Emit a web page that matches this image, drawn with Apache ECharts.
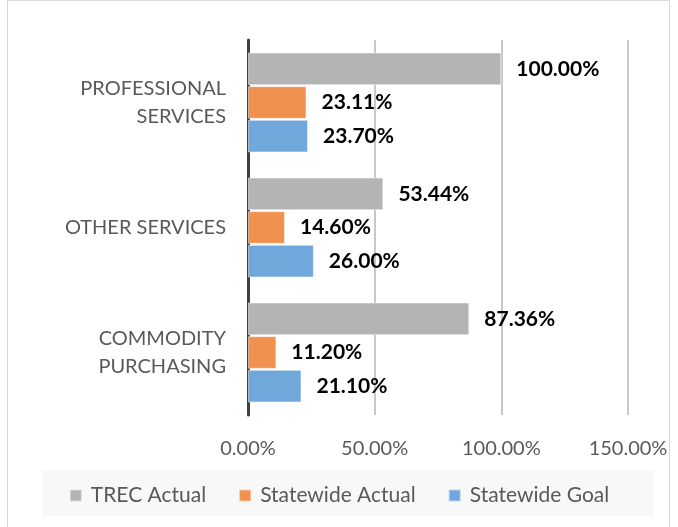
<!DOCTYPE html>
<html><head><meta charset="utf-8">
<script src="https://cdn.jsdelivr.net/npm/echarts@6/dist/echarts.min.js"></script>
<style>html,body{margin:0;padding:0;background:#fff}#c{width:678px;height:527px}</style>
</head><body><div id="c"></div>
<script>
const categories = ['PROFESSIONAL\nSERVICES', 'OTHER SERVICES', 'COMMODITY\nPURCHASING'];
const seriesNames = ['TREC Actual', 'Statewide Actual', 'Statewide Goal'];
const trecActual = [100.00, 53.44, 87.36];
const statewideActual = [23.11, 14.60, 11.20];
const statewideGoal = [23.70, 26.00, 21.10];
const xTicks = [0, 50, 100, 150];
const colors = ['#b4b4b4', '#f0914f', '#70a8dc'];
const values = [trecActual, statewideActual, statewideGoal];

const chart = echarts.init(document.getElementById('c'), null, {renderer: 'canvas'});
const font = 'Lato, "Open Sans", sans-serif';
chart.setOption({
  animation: false,
  backgroundColor: '#fff',
  graphic: [
    {type: 'rect', shape: {x: 7.5, y: 0.5, width: 662, height: 540}, style: {fill: 'none', stroke: '#d9d9d9', lineWidth: 1}, z: -10},
    {type: 'rect', shape: {x: 42, y: 470, width: 612, height: 46}, style: {fill: '#f8f8f8'}, z: -5}
  ],
  grid: {left: 248, right: 50, top: 40, bottom: 112, containLabel: false},
  legend: {
    data: seriesNames,
    left: 'center', top: 480,
    itemWidth: 12, itemHeight: 12, itemGap: 32,
    icon: 'rect',
    textStyle: {fontFamily: font, fontSize: 21, color: '#595959', padding: [0, 0, 0, 4]}
  },
  xAxis: {
    type: 'value', min: 0, max: 150, interval: 50,
    axisLine: {show: false}, axisTick: {show: false},
    splitLine: {lineStyle: {color: '#c8c8c8', width: 2}},
    axisLabel: {formatter: v => xTicks.includes(v) ? v.toFixed(2) + '%' : '', fontFamily: font, fontSize: 20, color: '#595959', margin: 24}
  },
  yAxis: {
    type: 'category', data: categories, inverse: true,
    axisLine: {lineStyle: {color: '#404040', width: 3}},
    axisTick: {show: false},
    axisLabel: {fontFamily: font, fontSize: 20, color: '#595959', margin: 22, lineHeight: 28, align: 'right'}
  },
  series: seriesNames.map((n, i) => ({
    name: n, type: 'bar', data: values[i],
    barCategoryGap: '20%', barGap: '3%',
    itemStyle: {color: colors[i], borderColor: 'rgba(255,255,255,0.5)', borderWidth: 1},
    label: {show: true, position: 'right', distance: 15,
      formatter: p => p.value.toFixed(2) + '%',
      fontFamily: font, fontWeight: 'bold', fontSize: 21, color: '#000'}
  }))
});
</script></body></html>
